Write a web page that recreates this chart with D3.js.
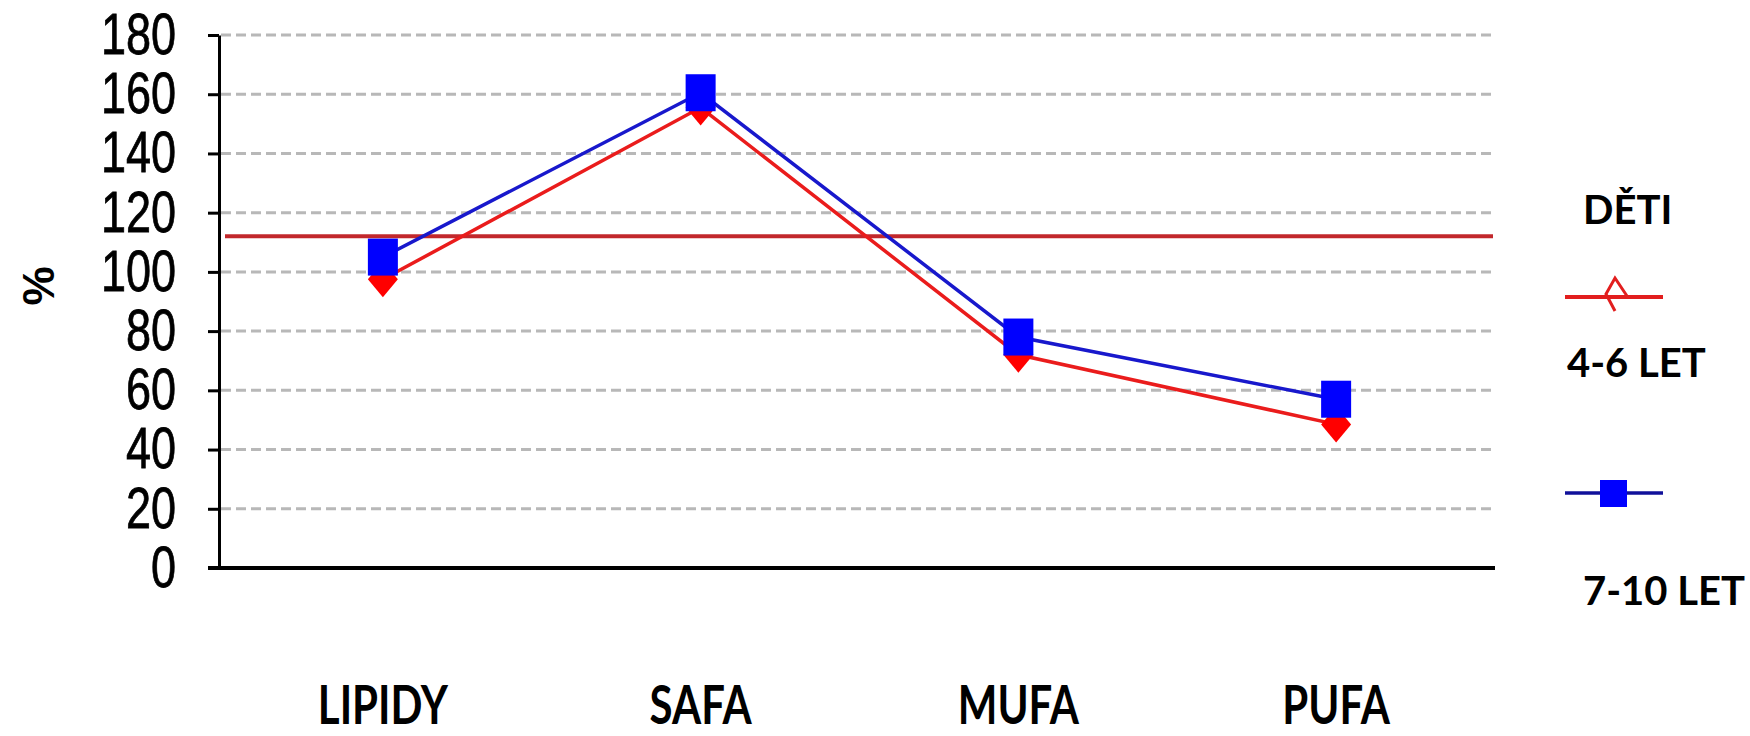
<!DOCTYPE html>
<html><head><meta charset="utf-8">
<script src="https://cdn.jsdelivr.net/npm/d3@7"></script>
<style>body{margin:0;background:#fff}</style>
</head><body>
<svg id="c" width="1750" height="736"></svg>
<script>
const categories = ["LIPIDY", "SAFA", "MUFA", "PUFA"];
const series46 = [97.5, 155.5, 72, 48.5];
const series710 = [105, 160.5, 78, 57];
const referenceValue = 112;
const yTicks = [0, 20, 40, 60, 80, 100, 120, 140, 160, 180];
const legendTitle = "DĚTI";
const seriesNames = ["4-6 LET", "7-10 LET"];
const yLabel = "%";

const svg = d3.select("#c");
const L = 219, R = 1495, T = 35, B = 568;
const y = d3.scaleLinear().domain([0, 180]).range([B, T]);
const x = d3.scalePoint().domain(categories).range([L + 5, R]).padding(0.5);

// gridlines
svg.append("g").selectAll("line").data(yTicks.filter(t => t > 0)).join("line")
  .attr("x1", L + 2).attr("x2", R).attr("y1", d => y(d)).attr("y2", d => y(d))
  .attr("stroke", "#b8b8b8").attr("stroke-width", 3).attr("stroke-dasharray", "10,5");

// reference line
svg.append("line").attr("x1", L + 6).attr("x2", R - 2)
  .attr("y1", y(referenceValue)).attr("y2", y(referenceValue))
  .attr("stroke", "#c2282c").attr("stroke-width", 4);

// y axis
const yAxis = svg.append("g").attr("transform", `translate(${L},0)`)
  .call(d3.axisLeft(y).tickValues(yTicks).tickSize(11).tickSizeOuter(0).tickPadding(32));
yAxis.select(".domain").attr("stroke", "#000").attr("stroke-width", 3);
yAxis.selectAll(".tick line").attr("stroke", "#000").attr("stroke-width", 3);
yAxis.selectAll(".tick text")
  .attr("font-family", "'Liberation Sans', Arial, sans-serif")
  .attr("font-size", 45).attr("fill", "#000")
  .attr("stroke", "#000").attr("stroke-width", 0.6)
  .attr("transform", "scale(1,1.28)");

// x axis baseline
svg.append("line").attr("x1", L - 11).attr("x2", R).attr("y1", y(0)).attr("y2", y(0))
  .attr("stroke", "#000").attr("stroke-width", 4);

// category labels
svg.append("g").selectAll("text").data(categories).join("text")
  .attr("transform", d => `translate(${x(d)},724) scale(1,1.26)`)
  .attr("text-anchor", "middle")
  .attr("font-family", "Lato, 'Open Sans', sans-serif").attr("font-weight", 700)
  .attr("font-size", 42).attr("fill", "#000")
  .text(d => d);

// y label
svg.append("text").attr("transform", "translate(54,286) rotate(-90)")
  .attr("text-anchor", "middle")
  .attr("font-family", "'Liberation Sans', Arial, sans-serif").attr("font-weight", 700)
  .attr("font-size", 44).attr("fill", "#000").text(yLabel);

// lines
const line = d3.line().x((d, i) => x(categories[i])).y(d => y(d));
svg.append("path").datum(series46).attr("d", line)
  .attr("fill", "none").attr("stroke", "#ea1c1c").attr("stroke-width", 3.5);
svg.append("g").selectAll("path").data(series46).join("path")
  .attr("transform", (d, i) => `translate(${x(categories[i])},${y(d)})`)
  .attr("d", "M0,-18L15,0L0,18L-15,0Z").attr("fill", "#ff0000");

svg.append("path").datum(series710).attr("d", line)
  .attr("fill", "none").attr("stroke", "#1818cc").attr("stroke-width", 3.5);
svg.append("g").selectAll("rect").data(series710).join("rect")
  .attr("x", (d, i) => x(categories[i]) - 15).attr("y", d => y(d) - 18.5)
  .attr("width", 30).attr("height", 37).attr("fill", "#0000ff");

// legend
const lg = svg.append("g");
const lf = "Lato, 'Open Sans', sans-serif";
lg.append("text").attr("x", 1583).attr("y", 224).attr("font-family", lf).attr("font-weight", 700)
  .attr("font-size", 40).attr("fill", "#000").text(legendTitle);
lg.append("line").attr("x1", 1565).attr("x2", 1663).attr("y1", 297).attr("y2", 297)
  .attr("stroke", "#e21e1e").attr("stroke-width", 4);
lg.append("path").attr("transform", "translate(1615,296)")
  .attr("d", "M12,0L0,-18L-9,-2L0,15").attr("fill", "none")
  .attr("stroke", "#e21e1e").attr("stroke-width", 3);
lg.append("text").attr("x", 1567).attr("y", 377).attr("font-family", lf).attr("font-weight", 700)
  .attr("font-size", 40).attr("fill", "#000").text(seriesNames[0]);
lg.append("line").attr("x1", 1565).attr("x2", 1663).attr("y1", 493).attr("y2", 493)
  .attr("stroke", "#10109a").attr("stroke-width", 3.5);
lg.append("rect").attr("x", 1600).attr("y", 480).attr("width", 27).attr("height", 27)
  .attr("fill", "#0000ff");
lg.append("text").attr("x", 1583).attr("y", 605).attr("font-family", lf).attr("font-weight", 700)
  .attr("font-size", 40).attr("fill", "#000").text(seriesNames[1]);
</script>
</body></html>
